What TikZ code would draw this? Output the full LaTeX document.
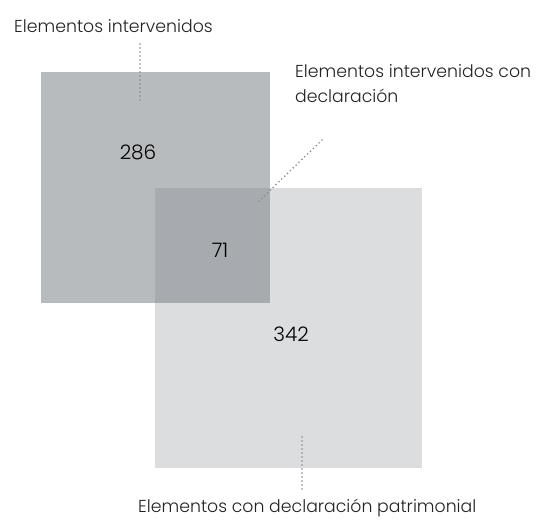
\documentclass[tikz,border=0pt]{standalone}
\usepackage{fontspec}
\setmainfont{Poppins}[UprightFont=* Light]
\definecolor{boxA}{HTML}{B8BBBE}
\definecolor{boxB}{HTML}{DCDDDF}
\definecolor{boxAB}{HTML}{A7AAAE}
\definecolor{dotc}{HTML}{84878C}
\definecolor{txt}{HTML}{222222}
\begin{document}
\begin{tikzpicture}[x=1pt,y=-1pt,
  lbl/.style={font=\fontsize{17.3}{25}\selectfont, text=txt, inner sep=0pt},
  num/.style={font=\fontsize{20}{22}\selectfont, text=black, inner sep=0pt},
  dotline/.style={draw=dotc, line width=1.8pt, line cap=round, dash pattern=on 0pt off 4pt}]
\useasboundingbox (0,0) rectangle (538,520);
\fill[boxA] (41,72) rectangle (270,303);
\fill[boxB] (155,188) rectangle (422,468);
\fill[boxAB] (155,188) rectangle (270,303);
\node[num] (n286) at (138,152) {286};
\node[num] (n71) at (220,250) {71};
\node[num] (n342) at (291,334) {342};
\node[lbl, anchor=base west] (l1) at (14,32) {Elementos intervenidos};
\node[lbl, anchor=base west, align=left] (l2) at (295,102) {Elementos intervenidos con\\declaración};
\node[lbl, anchor=base west] (l3) at (138,512) {Elementos con declaración patrimonial};
\coordinate (a1) at (140,44);
\coordinate (a2) at (140,100);
\coordinate (b1) at (322,140);
\coordinate (b2) at (257,203);
\coordinate (c1) at (302,437);
\coordinate (c2) at (302,490);
\draw[dotline] (a1) -- (a2);
\draw[dotline] (b1) -- (b2);
\draw[dotline] (c1) -- (c2);
\end{tikzpicture}
\end{document}
